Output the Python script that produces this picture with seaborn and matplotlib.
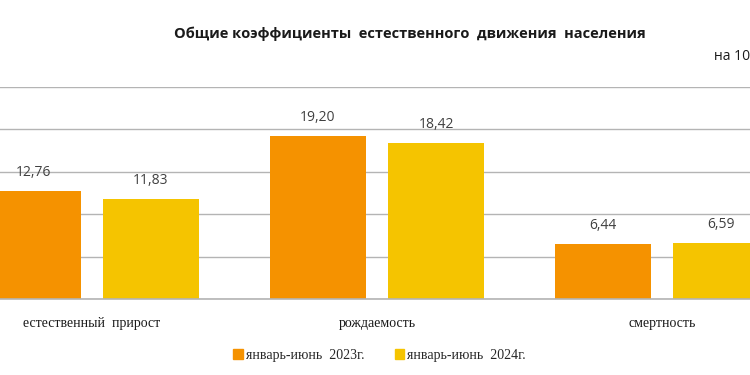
import pandas as pd
import matplotlib.pyplot as plt
import seaborn as sns

categories = ["естественный  прирост", "рождаемость", "смертность"]
periods = ["январь-июнь  2023г.", "январь-июнь  2024г."]
values_2023 = [12.76, 19.20, 6.44]
values_2024 = [11.83, 18.42, 6.59]
colors = ["#F59200", "#F5C400"]

data = pd.DataFrame({
    "category": categories * 2,
    "period": [periods[0]] * 3 + [periods[1]] * 3,
    "value": values_2023 + values_2024,
})

sns.set_theme(style="white")
fig = plt.figure(figsize=(7.5, 3.75), dpi=100)
# the plot area in the reference is wider than the picture (cropped on both sides)
ax = fig.add_axes([-50.5 / 750, 76 / 375, 855 / 750, 212 / 375])

sns.barplot(data=data, x="category", y="value", hue="period", palette=colors,
            width=0.828, gap=0.186, saturation=1, linewidth=0, ax=ax,
            legend=False, zorder=3)

ax.set_xlim(-0.5, 2.5)
ax.set_ylim(0, 25)
ax.set_yticks([0, 5, 10, 15, 20, 25])
ax.yaxis.grid(True, color="#b4b4b4", linewidth=1.0, zorder=0)
ax.set_axisbelow(True)
ax.axhline(0, color="#b4b4b4", linewidth=1.2, zorder=4, clip_on=False)
for s in ax.spines.values():
    s.set_visible(False)
ax.set_yticklabels([])
ax.tick_params(axis="both", length=0)
ax.tick_params(axis="x", pad=13)
ax.set_xlabel("")
ax.set_ylabel("")
for lbl in ax.get_xticklabels():
    lbl.set_fontfamily("Liberation Serif")
    lbl.set_fontsize(10)
    lbl.set_color("#1a1a1a")

for cont in ax.containers:
    ax.bar_label(cont, labels=[f"{v:.2f}".replace(".", ",") for v in cont.datavalues],
                 padding=8, fontsize=10, color="#404040", family="Open Sans")

fig.text(0.547, 0.91, "Общие коэффициенты  естественного  движения  населения",
         ha="center", va="center", fontsize=10.5, fontweight="bold",
         family="Open Sans", color="#1a1a1a")
fig.text(714 / 750, 0.848, "на 1000 населения", ha="left", va="center",
         fontsize=10, family="Open Sans", color="#1a1a1a")

handles = [plt.Rectangle((0, 0), 1, 1, color=c) for c in colors]
fig.legend(handles, periods, loc="center", bbox_to_anchor=(0.506, 0.053), ncol=2,
           frameon=False, handlelength=0.7, handleheight=0.7, handletextpad=0.2,
           columnspacing=2.2, prop={"family": "Liberation Serif", "size": 10})

fig.savefig("out.png", dpi=100)
